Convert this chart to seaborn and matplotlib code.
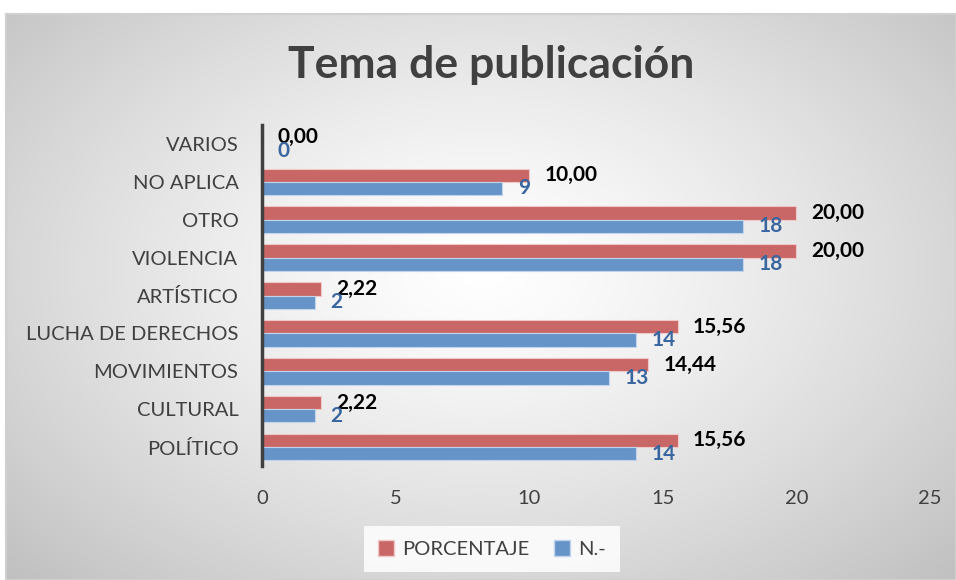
import numpy as np
import pandas as pd
import matplotlib
matplotlib.use("Agg")
import matplotlib.pyplot as plt
import matplotlib.patches as mpatches
import seaborn as sns

# chart values, top row first
categories = ["VARIOS", "NO APLICA", "OTRO", "VIOLENCIA", "ARTÍSTICO",
              "LUCHA DE DERECHOS", "MOVIMIENTOS", "CULTURAL", "POLÍTICO"]
porcentaje = [0.00, 10.00, 20.00, 20.00, 2.22, 15.56, 14.44, 2.22, 15.56]
n_count = [0, 9, 18, 18, 2, 14, 13, 2, 14]
series = ["PORCENTAJE", "N.-"]
x_ticks = [0, 5, 10, 15, 20, 25]

red = "#c96766"
blue = "#6794c8"
txt_gray = "#404040"

df = pd.DataFrame({
    "categoria": categories * 2,
    "valor": porcentaje + n_count,
    "serie": [series[0]] * len(categories) + [series[1]] * len(categories),
})

sns.set_style("white")
plt.rcParams["font.family"] = ["Lato", "DejaVu Sans"]

fig = plt.figure(figsize=(9.56, 5.8), dpi=100)

# ── background panel with radial gradient ────────────────────────────────
bg = fig.add_axes([6 / 956, 0, 1 - 6 / 956, 1 - 14 / 580], zorder=-10)
h, w = 300, 500
yy, xx = np.mgrid[0:h, 0:w]
cx, cy = w * 0.5, h * 0.45
r = np.sqrt(((xx - cx) / (w * 0.5)) ** 2 + ((yy - cy) / (h * 0.55)) ** 2) / np.sqrt(2)
shade = 1 - 0.25 * np.clip(r, 0, 1) ** 1.3
bg.imshow(np.dstack([shade] * 3), aspect="auto", extent=[0, 1, 0, 1], origin="upper")
bg.set_xlim(0, 1)
bg.set_ylim(0, 1)
bg.set_xticks([])
bg.set_yticks([])
for s in bg.spines.values():
    s.set_color("#d0d0d0")
    s.set_linewidth(1.5)

# ── bars ────────────────────────────────────────────────────────────────
ax = fig.add_axes([262 / 956, 1 - 466 / 580, (930 - 262) / 956, (466 - 125) / 580])
ax.patch.set_alpha(0)
sns.barplot(data=df, x="valor", y="categoria", hue="serie", order=categories,
            hue_order=series, palette=[red, blue], saturation=1, orient="h", width=0.7,
            errorbar=None, legend=False, ax=ax, edgecolor="#f0c8c8", linewidth=0.8)
for bar in ax.containers[1]:
    bar.set_edgecolor("#c0d4ec")

ax.set_xlim(0, 25)
ax.set_xticks(x_ticks)
ax.set_xlabel("")
ax.set_ylabel("")
ax.tick_params(axis="x", length=0, pad=17, labelsize=14.5, labelcolor=txt_gray)
ax.tick_params(axis="y", length=0, pad=17, labelsize=14.5, labelcolor=txt_gray)
for side in ["top", "right", "bottom"]:
    ax.spines[side].set_visible(False)
ax.spines["left"].set_color(txt_gray)
ax.spines["left"].set_linewidth(2.5)

ax.bar_label(ax.containers[0], labels=[f"{v:.2f}".replace(".", ",") for v in porcentaje],
             padding=11, fontsize=15, fontweight="bold", color="black")
ax.bar_label(ax.containers[1], labels=[str(v) for v in n_count],
             padding=11, fontsize=15, fontweight="bold", color="#3a66a0")

fig.text(0.514, 1 - 65 / 580, "Tema de publicación", ha="center", va="center",
         fontsize=32, fontweight="bold", color=txt_gray)

handles = [mpatches.Patch(facecolor=red, edgecolor="#f0c8c8", label=series[0]),
           mpatches.Patch(facecolor=blue, edgecolor="#c0d4ec", label=series[1])]
leg = fig.legend(handles=handles, loc="center", bbox_to_anchor=(492 / 956, 1 - 549 / 580),
                 ncol=2, frameon=True, fancybox=False, fontsize=14.5, handlelength=0.8,
                 handleheight=0.8, handletextpad=0.4, columnspacing=1.2,
                 borderpad=0.7, labelcolor=txt_gray)
leg.get_frame().set_facecolor("white")
leg.get_frame().set_edgecolor("none")
leg.get_frame().set_alpha(0.85)

fig.savefig("out.png", dpi=100)
